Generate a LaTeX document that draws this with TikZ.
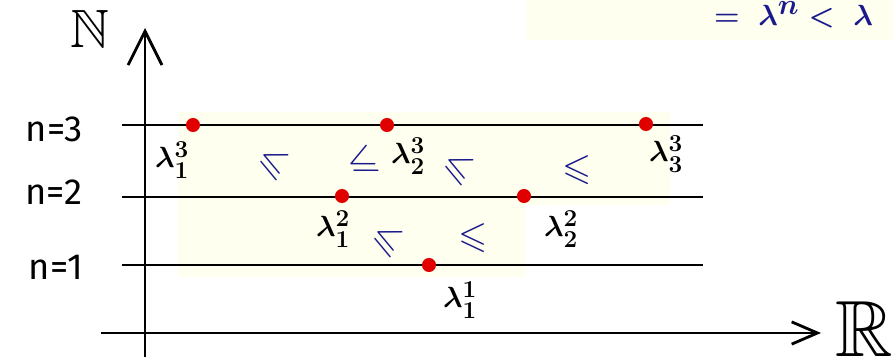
\documentclass[tikz,border=0pt]{standalone}
\usepackage{amssymb}
\usepackage{fontspec}
\newfontfamily\handfont{Fira Sans}
\usetikzlibrary{arrows.meta}
\definecolor{pale}{HTML}{FFFFF0}
\definecolor{inkblue}{HTML}{1A1A8C}
\definecolor{dotred}{HTML}{E00000}
\tikzset{
  level/.style={line width=2.4pt, black},
  axis/.style={line width=2.4pt, black},
  eig/.style={circle, fill=dotred, inner sep=0pt, minimum size=12pt},
  lab/.style={font=\boldmath\fontsize{30}{32}\selectfont, inner sep=0pt},
  rowlab/.style={font=\handfont\fontsize{31}{33}\selectfont, inner sep=0pt},
  rel/.style={text=inkblue, font=\fontsize{32}{34}\selectfont, inner sep=0pt},
}
\begin{document}
\begin{tikzpicture}[x=0.03cm, y=-0.03cm]
\useasboundingbox (0,0) rectangle (893,363);
% pale highlight
\fill[pale] (526,0) rectangle (893,40);
\fill[pale] (178,112) -- (670,112) -- (670,205) -- (525,205) -- (525,277) -- (178,277) -- cycle;
% top-right cropped text
\node[text=inkblue, font=\boldmath\fontsize{40}{42}\selectfont, anchor=base west, inner sep=0pt] (topeq) at (714,25) {$=\;\lambda^{n}<\;\lambda$};
% axes
\coordinate (vb) at (145,357);
\coordinate (vt) at (145,28);
\coordinate (hl) at (101,333);
\coordinate (hr) at (821,333);
\draw[axis, -{Straight Barb[length=29pt, width=29pt, line width=2.4pt]}] (vb) -- (vt);
\draw[axis, -{Straight Barb[length=22pt, width=19pt, line width=2.4pt]}] (hl) -- (hr);
\node[font=\fontsize{46}{48}\selectfont, inner sep=0pt] (N) at (90,29) {$\mathbb{N}$};
\node[font=\fontsize{68}{70}\selectfont, inner sep=0pt] (R) at (864,329) {$\mathbb{R}$};
% level lines
\coordinate (l3a) at (122,125); \coordinate (l3b) at (703,125);
\coordinate (l2a) at (122,197); \coordinate (l2b) at (703,197);
\coordinate (l1a) at (122,265); \coordinate (l1b) at (703,265);
\draw[level] (l3a) -- (l3b);
\draw[level] (l2a) -- (l2b);
\draw[level] (l1a) -- (l1b);
\node[rowlab] (n3) at (54,129) {n=3};
\node[rowlab] (n2) at (54,192) {n=2};
\node[rowlab] (n1) at (56,267) {n=1};
% eigenvalue dots
\node[eig] (d31) at (193,125) {};
\node[eig] (d32) at (387,125) {};
\node[eig] (d33) at (646,124) {};
\node[eig] (d21) at (342,196) {};
\node[eig] (d22) at (524,196) {};
\node[eig] (d11) at (429,265) {};
% labels
\node[lab] (t31) at (172,160) {$\lambda^{3}_{1}$};
\node[lab] (t32) at (408,156) {$\lambda^{3}_{2}$};
\node[lab] (t33) at (666,154) {$\lambda^{3}_{3}$};
\node[lab] (t21) at (333,229) {$\lambda^{2}_{1}$};
\node[lab] (t22) at (561,229) {$\lambda^{2}_{2}$};
\node[lab] (t11) at (460,300) {$\lambda^{1}_{1}$};
% interlacing inequalities
\node[rel, rotate=-25] (r1) at (273,163) {$\leqslant$};
\node[rel, rotate=25] (r2) at (363,163) {$\leqslant$};
\node[rel, rotate=-25] (r3) at (458,168) {$\leqslant$};
\node[rel] (r4) at (577,170) {$\leqslant$};
\node[rel, rotate=-25] (r5) at (387,240) {$\leqslant$};
\node[rel] (r6) at (473,238) {$\leqslant$};
\end{tikzpicture}
\end{document}
